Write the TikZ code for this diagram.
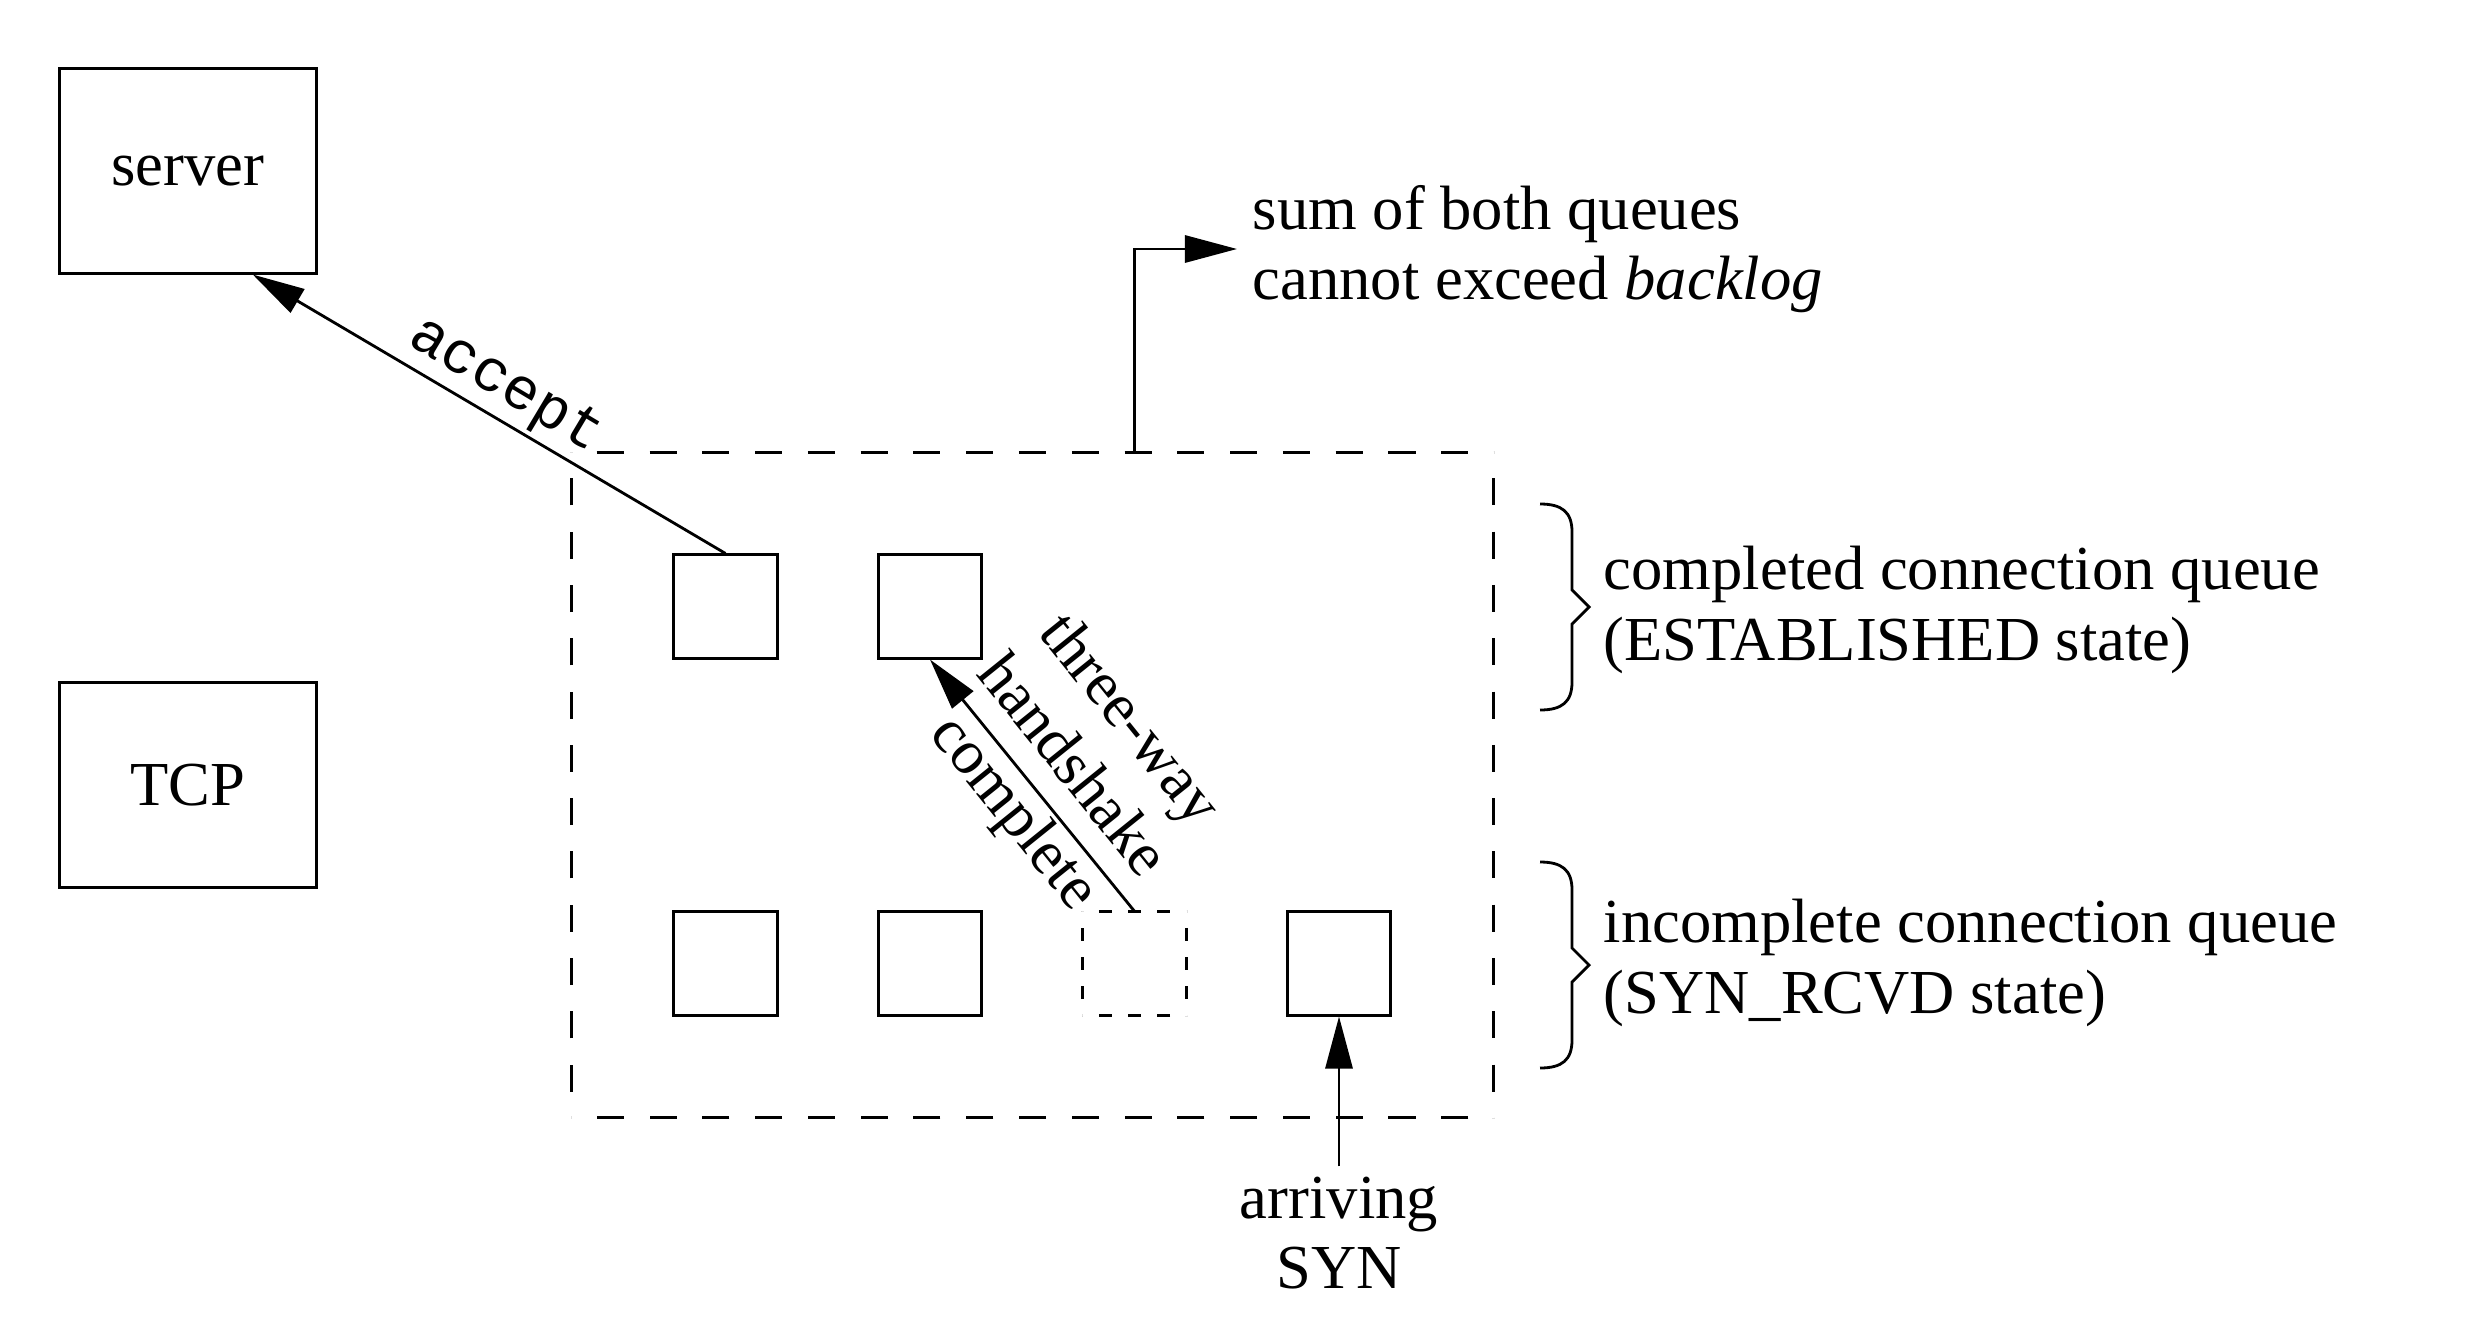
\documentclass[tikz,border=0pt]{standalone}
\usepackage{fontspec}
\setmainfont{Liberation Serif}
\setmonofont{Liberation Mono}
\usetikzlibrary{arrows.meta,calc,decorations}
\tikzset{
  qbrace/.pic={
    \draw[line width=0.8pt] (-32,-103) .. controls (-10,-103) and (0,-95) .. (0,-75)
      -- (0,-17) -- (17,0) -- (0,17) -- (0,75)
      .. controls (0,95) and (-10,103) .. (-32,103);
  }
}
\begin{document}
\begin{tikzpicture}[x=0.01cm,y=-0.01cm,
  every node/.style={font=\fontsize{17.8}{20}\selectfont},
  box/.style={draw, line width=0.85pt, minimum width=2.56cm, minimum height=2.04cm, inner sep=0pt},
  sq/.style={draw, line width=0.85pt, minimum width=1.03cm, minimum height=1.03cm, inner sep=0pt},
  ghost/.style={minimum width=1.03cm, minimum height=1.03cm, inner sep=0pt},
  bigdash/.style={line width=0.85pt, dash pattern=on 7.7pt off 7.1pt, dash expand off},
  smalldash/.style={line width=0.85pt, dash pattern=on 3.6pt off 3.3pt, dash expand off},
  arr/.style={line width=0.8pt, -{Triangle[length=14.8pt,width=7.7pt]}},
  lbl/.style={inner sep=0pt, align=left},
]
\useasboundingbox (0,0) rectangle (2479,1327);

% left boxes
\node[box] (server) at (188,171) {server};
\node[box] (tcp) at (188,785) {TCP};

% big dashed box
\node[minimum width=9.21cm, minimum height=6.64cm, inner sep=0pt] (bigbox) at (1032.5,785) {};
\draw[bigdash] (bigbox.north west) -- (bigbox.north east);
\draw[bigdash] (bigbox.north east) -- (bigbox.south east);
\draw[bigdash] (bigbox.south east) -- (bigbox.south west);
\draw[bigdash] (bigbox.south west) -- (bigbox.north west);

% queue entries
\node[sq] (c1) at (725.5,606.5) {};
\node[sq] (c2) at (930,606.5) {};
\node[sq] (i1) at (725.5,963.5) {};
\node[sq] (i2) at (930,963.5) {};
\node[ghost] (i3) at (1134.5,963.5) {};
\draw[smalldash] (i3.north west) -- (i3.north east);
\draw[smalldash] (i3.north east) -- (i3.south east);
\draw[smalldash] (i3.south east) -- (i3.south west);
\draw[smalldash] (i3.south west) -- (i3.north west);
\node[sq] (i4) at (1339,963.5) {};

% accept
\coordinate (acctip) at ($(server.south west)!0.75!(server.south east)$);
\draw[arr] (c1.north) -- (acctip);
\node[font=\ttfamily\fontsize{16.9}{20}\selectfont, rotate=-30.84, anchor=base, inner sep=0pt] (acc) at (498,398) {accept};

% three-way handshake
\draw[arr] (i3.north) -- (c2.south);
\node[rotate=-51.2, align=center, inner sep=0pt, font=\fontsize{17.8}{21}\selectfont] (hs) at (1070,768) {three-way\\handshake\\complete};

% sum note
\node[lbl, anchor=west, inner xsep=4.27pt] (sumnote) at (1237,249) {sum of both queues\\cannot exceed \textit{backlog}};
\draw[arr] (bigbox.north -| i3.north) |- (sumnote.west);

% queue labels
\pic at (1572,607) {qbrace};
\pic at (1572,965) {qbrace};
\node[lbl, anchor=west] (cq) at (1603,610) {completed connection queue\\(ESTABLISHED state)};
\node[lbl, anchor=west] (iq) at (1603,963) {incomplete connection queue\\(SYN\_RCVD state)};

% arriving SYN
\node[align=center, inner xsep=0pt, inner ysep=2.8pt] (syn) at (1339,1233) {arriving\\SYN};
\draw[arr] (syn.north) -- (i4.south);
\end{tikzpicture}
\end{document}
